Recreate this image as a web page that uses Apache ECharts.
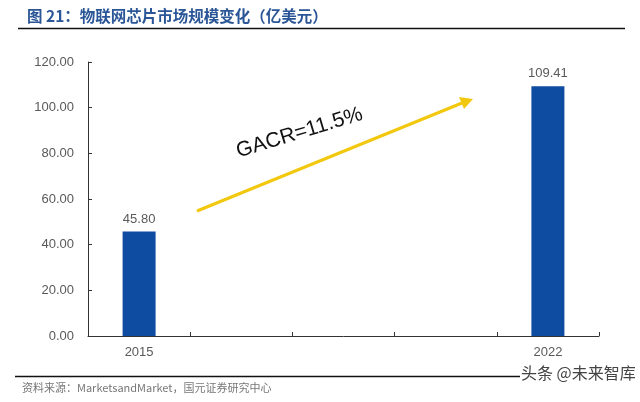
<!DOCTYPE html>
<html><head><meta charset="utf-8">
<script src="https://cdn.jsdelivr.net/npm/echarts@6/dist/echarts.min.js"></script>
<style>html,body{margin:0;padding:0;background:#fff}#c{width:640px;height:402px}</style>
</head><body><div id="c"></div>
<script>
const categories = ['2015', '', '', '', '2022'];
const marketSize = [45.80, null, null, null, 109.41];
const yTicks = [0, 20, 40, 60, 80, 100, 120];
const titleText = '图 21：物联网芯片市场规模变化（亿美元）';
const sourceText = '资料来源：MarketsandMarket，国元证券研究中心';
const cagrText = 'GACR=11.5%';

const chart = echarts.init(document.getElementById('c'), null, {renderer: 'canvas'});
const gray = '#595959';
chart.setOption({
  animation: false,
  backgroundColor: '#fff',
  grid: {left: 88, right: 41, top: 62, bottom: 66},
  xAxis: {
    type: 'category', data: categories,
    axisLine: {lineStyle: {color: '#333', width: 1}},
    axisTick: {show: true, inside: true, length: 4, alignWithLabel: false, interval: 0, lineStyle: {color: '#333'}},
    axisLabel: {color: gray, fontSize: 13, fontFamily: 'Liberation Sans, Arial', margin: 10, interval: 0}
  },
  yAxis: {
    type: 'value', min: yTicks[0], max: yTicks[yTicks.length - 1], interval: 20,
    splitLine: {show: false},
    axisLine: {show: true, lineStyle: {color: '#333', width: 1}},
    axisTick: {show: true, inside: true, length: 4, lineStyle: {color: '#333'}},
    axisLabel: {color: gray, fontSize: 13, fontFamily: 'Liberation Sans, Arial', margin: 14,
      formatter: v => v.toFixed(2)}
  },
  series: [{
    type: 'bar', data: marketSize, barWidth: 33,
    itemStyle: {color: '#0E4CA1'},
    label: {show: true, position: 'top', distance: 6, color: gray, fontSize: 13,
      fontFamily: 'Liberation Sans, Arial', formatter: p => p.value == null ? '' : p.value.toFixed(2)}
  }],
  graphic: [
    {type: 'text', left: 27, top: 8, style: {text: titleText, fill: '#2A5597', font: 'bold 15.5px "Noto Sans CJK SC"'}},
    {type: 'line', shape: {x1: 18, y1: 28.5, x2: 625, y2: 28.5}, style: {stroke: '#111', lineWidth: 1.5}},
    {type: 'line', shape: {x1: 15, y1: 376.5, x2: 520, y2: 376.5}, style: {stroke: '#111', lineWidth: 1.5}},
    {type: 'text', left: 22, top: 382, style: {text: sourceText, fill: '#777', font: '11px "Noto Sans CJK SC"'}},
    {type: 'text', left: 521, top: 365, style: {text: '头条 @未来智库', fill: '#444', font: '16px "Noto Sans CJK SC"'}},
    {type: 'line', shape: {x1: 197, y1: 211, x2: 462, y2: 103}, style: {stroke: '#F2C80F', lineWidth: 3}},
    {type: 'polygon', shape: {points: [[473, 99], [459, 97], [464, 109]]}, style: {fill: '#F2C80F'}},
    {type: 'text', x: 240, y: 162, rotation: 17 * Math.PI / 180,
      style: {text: cagrText, fill: '#111', font: '21px "Liberation Sans", Arial', textVerticalAlign: 'bottom'}}
  ]
});
</script></body></html>
